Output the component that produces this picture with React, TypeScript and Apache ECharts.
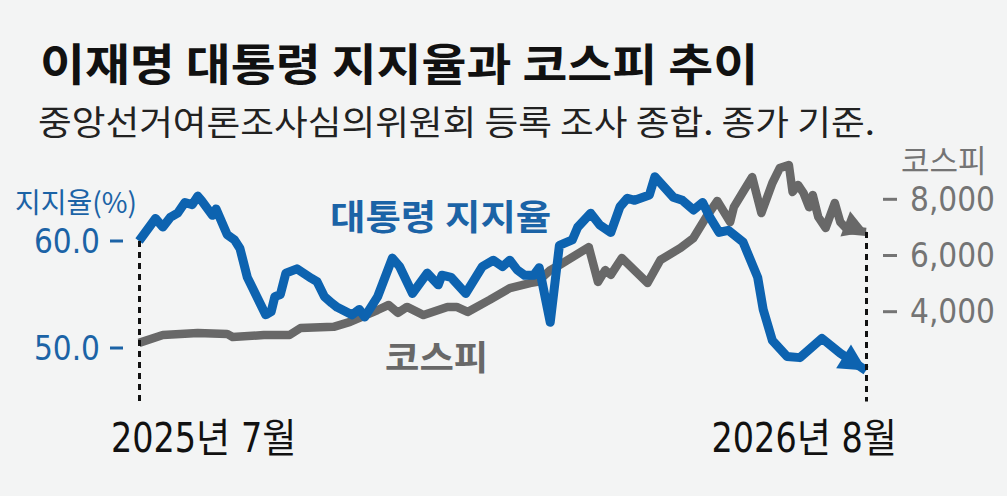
import { useEffect, useRef } from 'react'
import * as echarts from 'echarts'

// ── Data (days counted from 2025-07-01) ─────────────────────────────────────

const approvalDays = [
  0, 9, 13, 17, 21, 25, 29, 32, 34, 40, 42, 48, 52, 55, 59, 69, 72, 74, 77, 80,
  86, 94, 97, 101, 105, 108, 116, 120, 123, 130, 138, 142, 149, 157, 163, 165, 170, 178, 187, 193,
  198, 202, 206, 210, 215, 218, 224, 229, 236, 239, 246, 251, 257, 262, 266, 270, 278, 281, 291, 296,
  302, 307, 311, 316, 321, 329, 337, 340, 345, 353, 360, 372, 382, 396,
]
const approvalValues = [
  60.0, 62.1, 61.3, 62.2, 62.6, 63.6, 63.4, 64.2, 63.8, 62.4, 63.0, 60.6, 60.1, 59.3, 56.6, 53.1, 53.4, 54.8, 55.0, 57.0,
  57.4, 56.5, 56.2, 54.8, 54.2, 53.8, 53.1, 53.6, 52.9, 54.8, 58.4, 57.6, 55.1, 57.0, 55.9, 56.8, 56.6, 55.1, 57.6, 58.2,
  57.6, 58.2, 57.3, 56.8, 56.8, 57.5, 52.4, 59.6, 60.1, 61.3, 62.6, 61.5, 60.8, 63.2, 64.0, 63.8, 64.3, 66.0, 64.1, 63.8,
  62.9, 63.6, 62.2, 60.8, 61.0, 59.9, 56.6, 53.6, 50.7, 49.2, 49.1, 50.9, 49.5, 47.9,
]

const kospiDays = [
  0, 13, 32, 48, 51, 68, 82, 88, 106, 115, 130, 136, 141, 146, 155, 168, 173, 179, 191, 202,
  213, 217, 224, 229, 245, 250, 254, 257, 263, 277, 284, 295, 302, 309, 315, 322, 324, 329, 334, 339,
  345, 349, 354, 356, 359, 362, 365, 367, 370, 374, 379, 382, 386, 396,
]
const kospiValues = [
  2890, 3170, 3240, 3210, 3100, 3170, 3170, 3420, 3460, 3640, 4060, 4240, 3960, 4170, 3880, 4170, 4170, 3990, 4420, 4840,
  5020, 5060, 5480, 5660, 6300, 5060, 5480, 5310, 5910, 5020, 5840, 6270, 6620, 7370, 7940, 7190, 7720, 8260, 8790, 7510,
  8580, 9110, 9220, 8260, 8510, 8220, 7720, 8150, 7370, 6980, 7870, 7190, 6910, 6840,
]

const approvalTicks = [50, 60]
const kospiTicks = [4000, 6000, 8000]
const periodLabels = ['2025년 7월', '2026년 8월']

// ── Styles ──────────────────────────────────────────────────────────────────

const BG = '#f3f4f4'
const BLUE = '#0d63b0'
const BLUE_TEXT = '#1b63a6'
const GRAY = '#686868'
const GRAY_TEXT = '#747474'
const KR = "'Noto Sans CJK KR', sans-serif"
const NARROW = "'Liberation Sans Narrow', 'DejaVu Sans Condensed', 'Noto Sans CJK KR', sans-serif"

const APPROVAL_MIN = 45
const APPROVAL_MAX = 70
const KOSPI_MIN = 804
const KOSPI_MAX = 10324

function withArrow(days: number[], values: number[], arrow: Record<string, unknown>) {
  return days.map((d, i) =>
    i === days.length - 1 ? { value: [d, values[i]], ...arrow } : { value: [d, values[i]] },
  )
}

function label(text: string, x: number, y: number, opts: Record<string, unknown>, scaleX = 1) {
  return {
    type: 'text', x, y, scaleX, silent: true,
    style: {
      text, fontFamily: KR,
      verticalAlign: 'middle', textVerticalAlign: 'middle',
      ...opts,
    },
  }
}

export default function App() {
  const ref = useRef<HTMLDivElement>(null)

  useEffect(() => {
    if (!ref.current) return
    const chart = echarts.init(ref.current, null, { renderer: 'svg' })
    const lastK = kospiDays.length - 1

    chart.setOption({
      animation: false,
      backgroundColor: BG,
      grid: { left: 139, right: 141, top: 134, bottom: 94.5, outerBoundsMode: 'none', containLabel: false },
      xAxis: {
        type: 'value', min: 0, max: 396, show: false,
      },
      yAxis: [
        {
          type: 'value', min: APPROVAL_MIN, max: APPROVAL_MAX, position: 'left',
          axisLine: { show: false }, axisTick: { show: false }, splitLine: { show: false },
          name: '지지율(%)', nameLocation: 'end', nameGap: -67,
          nameTextStyle: {
            color: BLUE_TEXT, fontFamily: KR, fontSize: 28,
            align: 'right', verticalAlign: 'middle', padding: [0, 2, 0, 0],
          },
          axisLabel: {
            customValues: approvalTicks, margin: 16,
            formatter: (v: number) => `{v|${v.toFixed(1)}}{d|}`,
            rich: {
              v: { color: BLUE_TEXT, fontFamily: NARROW, fontSize: 33, padding: [0, 10, 0, 0] },
              d: { width: 13, height: 3, backgroundColor: BLUE_TEXT, verticalAlign: 'middle' },
            },
          },
        },
        {
          type: 'value', min: KOSPI_MIN, max: KOSPI_MAX, position: 'right',
          axisLine: { show: false }, axisTick: { show: false }, splitLine: { show: false },
          name: '코스피', nameLocation: 'end', nameGap: -24,
          nameTextStyle: {
            color: GRAY_TEXT, fontFamily: KR, fontSize: 31,
            align: 'left', verticalAlign: 'middle', padding: [0, 0, 0, 35],
          },
          axisLabel: {
            customValues: kospiTicks, margin: 17,
            formatter: (v: number) => `{d|}{v|${v.toLocaleString('en-US')}}`,
            rich: {
              d: { width: 14, height: 3, backgroundColor: GRAY_TEXT, verticalAlign: 'middle' },
              v: { color: GRAY_TEXT, fontFamily: NARROW, fontSize: 33, padding: [0, 0, 0, 13] },
            },
          },
        },
      ],
      series: [
        {
          type: 'line', name: '코스피', yAxisIndex: 1, silent: true, z: 2,
          symbol: 'none', showSymbol: true,
          lineStyle: { color: GRAY, width: 8.5, join: 'round' },
          itemStyle: { color: GRAY, borderWidth: 0 },
          data: withArrow(kospiDays, kospiValues, {
            symbol: 'triangle', symbolSize: [27, 23], symbolRotate: -111, symbolOffset: [-10, -4],
          }),
          markLine: {
            silent: true, symbol: 'none', label: { show: false },
            lineStyle: { color: '#111', width: 3, type: [6, 5] },
            data: [[
              { coord: [kospiDays[lastK], kospiValues[lastK]] },
              { coord: [kospiDays[lastK], KOSPI_MIN] },
            ]],
          },
        },
        {
          type: 'line', name: '대통령 지지율', yAxisIndex: 0, silent: true, z: 3,
          symbol: 'none', showSymbol: true,
          lineStyle: { color: BLUE, width: 9, join: 'round' },
          itemStyle: { color: BLUE, borderWidth: 0 },
          data: withArrow(approvalDays, approvalValues, {
            symbol: 'triangle', symbolSize: [28, 27], symbolRotate: -122, symbolOffset: [-11, -7],
          }),
          markLine: {
            silent: true, symbol: 'none', label: { show: false },
            lineStyle: { color: '#111', width: 3, type: [6, 5] },
            data: [[
              { coord: [approvalDays[0], approvalValues[0]] },
              { coord: [approvalDays[0], APPROVAL_MIN] },
            ]],
          },
        },
      ],
      graphic: [
        label('이재명 대통령 지지율과 코스피 추이', 40, 62,
          { fill: '#111', fontSize: 44, fontWeight: 'bold' }, 1.11),
        label('중앙선거여론조사심의위원회 등록 조사 종합. 종가 기준.', 38, 120,
          { fill: '#222', fontSize: 34 }, 1.078),
        label('대통령 지지율', 330, 215,
          { fill: BLUE_TEXT, fontSize: 35, fontWeight: 'bold' }, 1.1),
        label('코스피', 385, 355,
          { fill: GRAY, fontSize: 34, fontWeight: 'bold' }, 1.1),
        label(periodLabels[0], 111, 438,
          { fill: '#111', fontFamily: NARROW, fontSize: 40 }, 0.93),
        label(periodLabels[1], 897, 438,
          { fill: '#111', fontFamily: NARROW, fontSize: 40, align: 'right', textAlign: 'right' }, 0.93),
      ],
    })

    return () => chart.dispose()
  }, [])

  return (
    <div
      ref={ref}
      style={{ position: 'fixed', left: 0, top: 0, width: 1007, height: 496, background: BG }}
    />
  )
}
